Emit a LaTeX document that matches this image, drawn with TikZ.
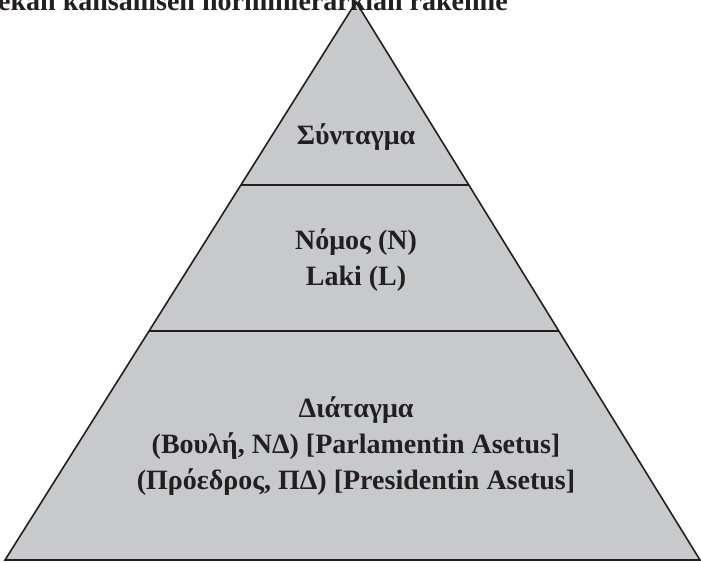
\documentclass[tikz,border=0pt]{standalone}
\usepackage{fontspec}
\setmainfont{Liberation Serif}
\usetikzlibrary{calc}
\definecolor{layerfill}{RGB}{200,201,203}
\definecolor{edgeline}{RGB}{35,31,32}
\tikzset{
  layertext/.style={align=center, text=edgeline,
    font=\bfseries\fontsize{28}{36}\selectfont},
  divider/.style={draw=edgeline, line width=1.6pt},
}
\begin{document}
\begin{tikzpicture}[x=1pt,y=-1pt]
\useasboundingbox (0,0) rectangle (701,562);
\clip (0,0) rectangle (701,562);
% corners of the pyramid
\coordinate (apex) at (356,2);
\coordinate (bl) at (5,560);
\coordinate (br) at (700,560);
\filldraw[fill=layerfill, draw=edgeline, line width=1.6pt, line join=miter]
  (apex) -- (bl) -- (br) -- cycle;
% level boundaries
\coordinate (l1) at ($(bl)!0.672!(apex)$);
\coordinate (r1) at ($(br)!0.672!(apex)$);
\coordinate (l2) at ($(bl)!0.4104!(apex)$);
\coordinate (r2) at ($(br)!0.4104!(apex)$);
\draw[divider] (l1) -- (r1);
\draw[divider] (l2) -- (r2);
% title (runs off the top edge)
\node[anchor=base west, inner sep=0pt, text=edgeline,
      font=\bfseries\fontsize{28}{36}\selectfont] (title) at (-2,10)
  {ekan kansallisen normihierarkian rakenne};
% level labels
\node[layertext] (top) at (356,137) {Σύνταγμα};
\node[layertext] (mid) at (356,260) {Νόμος (N)\\Laki (L)};
\node[layertext] (bot) at (356,446)
  {Διάταγμα\\(Βουλή, ΝΔ) [Parlamentin Asetus]\\(Πρόεδρος, ΠΔ) [Presidentin Asetus]};
\end{tikzpicture}
\end{document}
